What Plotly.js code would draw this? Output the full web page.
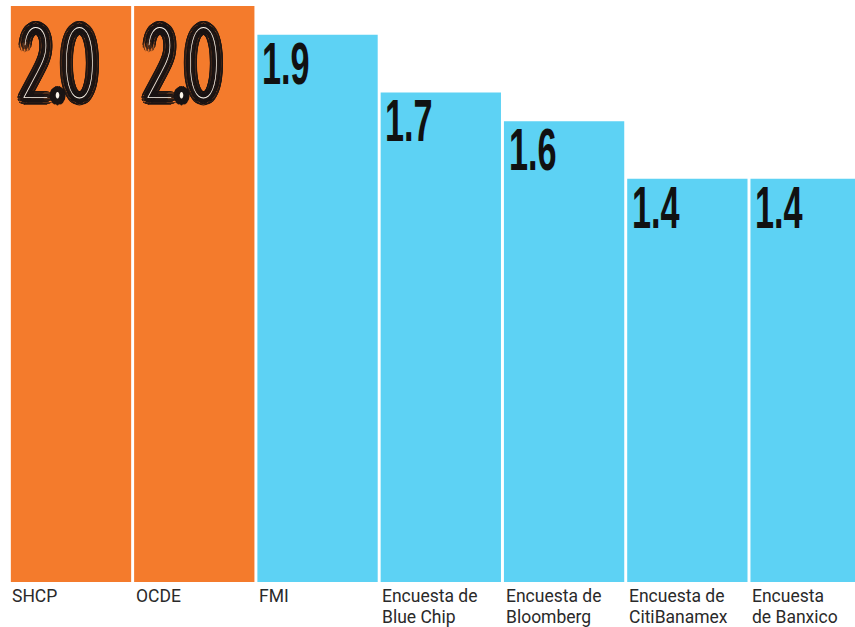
<!DOCTYPE html>
<html>
<head>
<meta charset="utf-8">
<script src="https://cdn.plot.ly/plotly-3.0.1.min.js"></script>
<style>
  html, body { margin: 0; padding: 0; background: #ffffff; }
  #chart { width: 855px; height: 627px; }
  /* condensed look for the value labels (no condensed font available offline) */
  text.annotation-text[style*="font-size: 59px"] {
    transform: scaleX(0.58); transform-box: fill-box; transform-origin: 0 0;
  }
  text.annotation-text[style*="font-size: 100px"] {
    transform: scaleX(0.54); transform-box: fill-box; transform-origin: 0 0;
  }
</style>
</head>
<body>
<div id="chart"></div>
<script>
// Data (growth forecasts, %)
const categories = ["SHCP", "OCDE", "FMI", "Encuesta de Blue Chip", "Encuesta de Bloomberg", "Encuesta de CitiBanamex", "Encuesta de Banxico"];
const tickLabels = ["SHCP", "OCDE", "FMI", "Encuesta de<br>Blue Chip", "Encuesta de<br>Bloomberg", "Encuesta de<br>CitiBanamex", "Encuesta<br>de Banxico"];
const values = [2.0, 2.0, 1.9, 1.7, 1.6, 1.4, 1.4];
const valueLabels = ["2.0", "2.0", "1.9", "1.7", "1.6", "1.4", "1.4"];
const highlighted = [true, true, false, false, false, false, false];

const ORANGE = "#F47B2C";
const CYAN = "#5DD2F4";

const trace = {
  type: "bar",
  x: categories,
  y: values,
  marker: { color: highlighted.map(h => h ? ORANGE : CYAN), line: { width: 0 } },
  hoverinfo: "skip"
};

// elliptical outline shadow (compensates the horizontal squeeze)
function outline(r, sx, color) {
  const parts = [];
  const n = 24;
  for (let k = 0; k < n; k++) {
    const a = (Math.PI * 2 * k) / n;
    parts.push((r * Math.cos(a) / sx).toFixed(2) + "px " + (r * Math.sin(a)).toFixed(2) + "px 0 " + color);
  }
  return parts.join(", ");
}

const annotations = [];
categories.forEach((c, i) => {
  const lines = tickLabels[i].split("<br>");
  lines.forEach((ln, j) => {
    annotations.push({
      x: i - 0.475, xref: "x", xanchor: "left",
      y: 0, yref: "paper", yanchor: "top", yshift: -4 - 21 * j,
      text: ln, showarrow: false, align: "left",
      borderpad: 0, borderwidth: 0,
      font: { family: "Roboto, sans-serif", size: 17.5, color: "#2a2a2a" }
    });
  });
  if (highlighted[i]) {
    annotations.push({
      x: i - 0.41, xref: "x", xanchor: "left",
      y: values[i], yref: "y", yanchor: "top", yshift: 6,
      text: valueLabels[i], showarrow: false,
      borderpad: 0, borderwidth: 0,
      font: { family: "Lato, Roboto, sans-serif", size: 100, weight: 100, color: "#fbf4ea",
              shadow: outline(5, 0.54, "#1a1414") + ", " + outline(3, 0.54, "#1a1414") }
    });
  } else {
    annotations.push({
      x: i - 0.465, xref: "x", xanchor: "left",
      y: values[i], yref: "y", yanchor: "top", yshift: 7,
      text: valueLabels[i], showarrow: false,
      font: { family: "Liberation Sans, Arial, sans-serif", size: 59, weight: "bold", color: "#111111" }
    });
  }
});

const layout = {
  width: 855, height: 627,
  margin: { l: 0, r: 0, t: 0, b: 45, pad: 0 },
  paper_bgcolor: "#ffffff", plot_bgcolor: "#ffffff",
  bargap: 0.024,
  showlegend: false,
  xaxis: { type: "category", range: [-0.576, 6.36], showgrid: false, zeroline: false, showticklabels: false, showline: false, ticks: "" },
  yaxis: { range: [0, 2.021], showgrid: false, zeroline: false, showticklabels: false, showline: false, ticks: "" },
  annotations: annotations
};

Plotly.newPlot("chart", [trace], layout, { displayModeBar: false, staticPlot: true });
</script>
</body>
</html>
